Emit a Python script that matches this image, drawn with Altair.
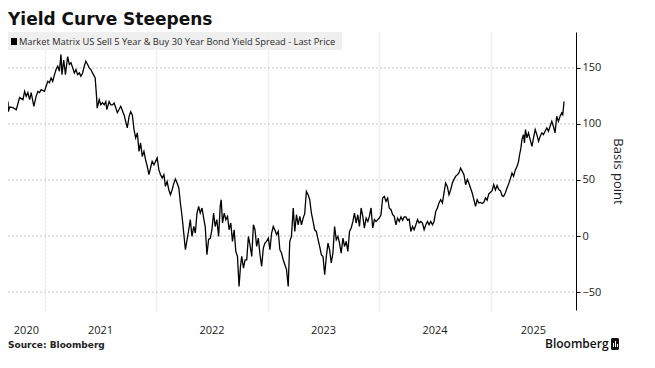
import altair as alt
import pandas as pd

# ---- data (decimal year, spread in basis points) ----
dec_year = [
    2020.670, 2020.673, 2020.685, 2020.715, 2020.744, 2020.774, 2020.804, 2020.819, 2020.833, 2020.848,
    2020.864, 2020.878, 2020.893, 2020.902, 2020.922, 2020.938, 2020.953, 2020.967, 2020.997, 2021.012,
    2021.027, 2021.042, 2021.056, 2021.071, 2021.087, 2021.101, 2021.116, 2021.131, 2021.145, 2021.154,
    2021.170, 2021.185, 2021.205, 2021.220, 2021.235, 2021.250, 2021.265, 2021.279, 2021.294, 2021.310,
    2021.324, 2021.339, 2021.354, 2021.368, 2021.384, 2021.399, 2021.413, 2021.428, 2021.452, 2021.464,
    2021.470, 2021.488, 2021.502, 2021.517, 2021.533, 2021.547, 2021.556, 2021.577, 2021.591, 2021.607,
    2021.622, 2021.651, 2021.681, 2021.711, 2021.740, 2021.756, 2021.770, 2021.785, 2021.800, 2021.815,
    2021.830, 2021.845, 2021.859, 2021.874, 2021.889, 2021.904, 2021.919, 2021.934, 2021.948, 2021.963,
    2021.979, 2021.993, 2022.008, 2022.023, 2022.038, 2022.053, 2022.068, 2022.082, 2022.097, 2022.112,
    2022.127, 2022.142, 2022.157, 2022.171, 2022.187, 2022.202, 2022.216, 2022.231, 2022.246, 2022.261,
    2022.276, 2022.291, 2022.305, 2022.320, 2022.336, 2022.350, 2022.365, 2022.380, 2022.394, 2022.410,
    2022.425, 2022.439, 2022.454, 2022.469, 2022.484, 2022.499, 2022.514, 2022.528, 2022.543, 2022.559,
    2022.573, 2022.582, 2022.594, 2022.609, 2022.624, 2022.639, 2022.653, 2022.668, 2022.683, 2022.698,
    2022.713, 2022.728, 2022.742, 2022.755, 2022.766, 2022.782, 2022.796, 2022.811, 2022.826, 2022.840,
    2022.856, 2022.871, 2022.885, 2022.900, 2022.915, 2022.930, 2022.945, 2022.960, 2022.974, 2022.989,
    2023.005, 2023.019, 2023.034, 2023.049, 2023.063, 2023.079, 2023.094, 2023.108, 2023.123, 2023.138,
    2023.153, 2023.168, 2023.183, 2023.197, 2023.212, 2023.228, 2023.242, 2023.257, 2023.272, 2023.287,
    2023.302, 2023.317, 2023.331, 2023.346, 2023.361, 2023.376, 2023.391, 2023.406, 2023.420, 2023.435,
    2023.451, 2023.465, 2023.480, 2023.495, 2023.510, 2023.525, 2023.540, 2023.554, 2023.569, 2023.584,
    2023.599, 2023.614, 2023.629, 2023.643, 2023.658, 2023.674, 2023.688, 2023.703, 2023.718, 2023.733,
    2023.748, 2023.763, 2023.777, 2023.792, 2023.807, 2023.822, 2023.837, 2023.852, 2023.866, 2023.882,
    2023.897, 2023.911, 2023.926, 2023.941, 2023.956, 2023.971, 2023.986, 2024.000, 2024.015, 2024.030,
    2024.045, 2024.060, 2024.075, 2024.089, 2024.105, 2024.120, 2024.134, 2024.149, 2024.164, 2024.179,
    2024.194, 2024.209, 2024.223, 2024.238, 2024.254, 2024.268, 2024.283, 2024.298, 2024.312, 2024.328,
    2024.343, 2024.357, 2024.372, 2024.387, 2024.402, 2024.417, 2024.432, 2024.446, 2024.461, 2024.477,
    2024.491, 2024.506, 2024.521, 2024.535, 2024.551, 2024.566, 2024.580, 2024.595, 2024.610, 2024.625,
    2024.640, 2024.655, 2024.669, 2024.684, 2024.700, 2024.714, 2024.729, 2024.744, 2024.759, 2024.774,
    2024.789, 2024.803, 2024.818, 2024.833, 2024.848, 2024.863, 2024.878, 2024.892, 2024.908, 2024.923,
    2024.937, 2024.952, 2024.967, 2024.981, 2024.997, 2025.012, 2025.026, 2025.041, 2025.056, 2025.071,
    2025.086, 2025.101, 2025.115, 2025.130, 2025.146, 2025.160, 2025.175, 2025.190, 2025.204, 2025.220,
    2025.235, 2025.249, 2025.258, 2025.270, 2025.279, 2025.293, 2025.302, 2025.311, 2025.324, 2025.338,
    2025.353, 2025.369, 2025.383, 2025.398, 2025.413, 2025.428, 2025.443, 2025.458, 2025.472, 2025.487,
    2025.502, 2025.517, 2025.532, 2025.547, 2025.561, 2025.576, 2025.591, 2025.606, 2025.621, 2025.636,
    2025.645, 2025.657,
]

spread_bp = [
    120, 111, 115, 114.5, 112.6, 123.5, 121.7, 129, 124.6, 128,
    121.7, 128, 120, 115.7, 124.6, 129, 128, 130.6, 129, 133.6,
    138, 136.8, 141, 138, 144, 148.5, 151.5, 147, 162, 144,
    157, 144, 160, 153, 154.5, 150, 145.5, 148.5, 144, 145.5,
    142.5, 145.5, 151.5, 156, 153, 150, 148.5, 145.5, 141, 124.6,
    114, 121.7, 117, 119, 117, 120, 112.7, 120, 117, 117,
    118.6, 110, 115.7, 108, 96.4, 106.8, 111, 108, 95, 87.5,
    92, 75.5, 83, 71, 75.5, 68, 62, 54.7, 60.6, 66.6,
    63.6, 66.6, 69.6, 59, 54.7, 51.7, 54.7, 44.3, 48.7, 41.3,
    36.9, 41.3, 47, 50.8, 47, 42.9, 29.5, 17.5, 2.7, -12.2,
    -3.3, 5.6, 14.6, -0.4, 8.5, 2.7, 20.5, 26.4, 20.5, 25,
    16, 8, -16.7, -3, -2, 5.6, 20.5, 8.5, 14.6, -0.4,
    26.4, 32.4, 11.6, 20.5, 14.6, 17.5, 5.6, 11.6, -4.8, 5.6,
    -13.7, -18.2, -45, -27, -18.2, -28.6, -21.2, -21.2, -0.4, -7.8,
    -18.2, 10, 5.6, -9.3, -1.8, -16.7, -27, -10.7, -6.3, -4.8,
    -1.8, -12.2, 2.7, 8.5, 5.6, 1.2, 4.1, -12.2, -15.2, -21.2,
    -25.6, -30, -45, -4.8, -0.4, 25, 4.1, 19, 10, 17.5,
    10, 16, 20, 39.8, 36.9, 32.4, 20.5, 13, 5.6, 4.1,
    -3.3, -9.3, -16.7, -18.2, -34.6, -18.2, -6.3, -12.2, -24, -15.2,
    8.5, -3.3, -0.4, -6.3, -15.2, -1.8, -9.3, -4.8, -13.7, 4.1,
    7.1, 13, 20.5, 11.6, 19, 8.5, 25, 17.5, 7.1, 16,
    13, 17.5, 25, 7.1, 14.6, 13, 14.6, 16, 19, 33.9,
    35.4, 30.9, 33.9, 25, 23.5, 19, 17.5, 10, 16, 13,
    17, 14, 17, 17, 14, 15, 4, 8.5, 5.6, 10,
    14.6, 11.6, 13, 11.6, 5.6, 10, 13, 10, 13, 10,
    13, 22, 25, 29.5, 32.4, 29.5, 38.4, 47.3, 44.3, 36.9,
    41.3, 47.3, 50.3, 53.2, 54.7, 56.2, 60.6, 57.7, 54.7, 45.8,
    50.3, 47.3, 42.9, 38.4, 32.4, 26.4, 32.4, 29.5, 30, 29,
    30, 34, 32, 37.5, 39, 40.5, 45.8, 41, 45, 41.5,
    40.5, 36, 35.4, 38.4, 43, 46.5, 51, 56.2, 53.2, 59,
    62, 66.6, 72.5, 78.5, 86, 90.4, 83, 95, 87.5, 92,
    86, 80, 87.5, 95, 90.4, 84.5, 89, 92, 90.4, 93.4,
    96.4, 93.4, 97.9, 102.3, 97.9, 92, 106.8, 102.3, 106.8, 109.8,
    108.3, 120,
]

years = [2020, 2021, 2022, 2023, 2024, 2025]
year_bounds = [2021, 2022, 2023, 2024, 2025]
y_ticks = [-50, -25, 0, 25, 50, 75, 100, 125, 150, 175]
y_grid = [-50, 0, 50, 100, 150]
x_domain = [2020.670, 2025.764]
y_domain = [-66, 182]

title_text = "Yield Curve Steepens"
legend_text = "Market Matrix US Sell 5 Year & Buy 30 Year Bond Yield Spread - Last Price"
source_text = "Source: Bloomberg"
axis_title = "Basis point"

W, H = 568, 278

df = pd.DataFrame({"t": dec_year, "v": spread_bp})
lab_df = pd.DataFrame({
    "t": [(max(x_domain[0], y) + min(x_domain[1], y + 1)) / 2 for y in years],
    "lab": [str(y) for y in years],
})
grid_df = pd.DataFrame({"v": y_grid})
one = pd.DataFrame({"a": [0]})

xs = alt.Scale(domain=x_domain, nice=False, zero=False)
ys = alt.Scale(domain=y_domain, nice=False, zero=False)

box = alt.Chart(one).mark_rect(color="#ececec", opacity=0.85).encode(
    x=alt.value(0), x2=alt.value(334), y=alt.value(0), y2=alt.value(18)
)
sq = alt.Chart(one).mark_rect(color="black").encode(
    x=alt.value(3), x2=alt.value(9), y=alt.value(6), y2=alt.value(13)
)
leg = alt.Chart(one).mark_text(
    text=legend_text, align="left", baseline="middle", font="Open Sans",
    fontSize=9.3, color="#2a2a2a"
).encode(x=alt.value(11), y=alt.value(9.5))

hgrid = alt.Chart(grid_df).mark_rule(color="#c4c4c4", strokeDash=[2, 2], strokeWidth=1).encode(
    y=alt.Y("v:Q", scale=ys), x=alt.value(0), x2=alt.value(W)
)

line = alt.Chart(df).mark_line(color="black", strokeWidth=1.3, clip=True).encode(
    x=alt.X("t:Q", scale=xs, axis=alt.Axis(
        values=year_bounds, grid=True, gridColor="#dadada", gridDash=[2, 2],
        labels=False, ticks=False, domain=False, title=None)),
    y=alt.Y("v:Q", scale=ys, axis=alt.Axis(
        orient="right", values=y_ticks, grid=False,
        labelExpr="datum.value % 50 == 0 ? datum.label : ''",
        domainColor="black", domainWidth=1, tickColor="black", tickSize=4,
        labelPadding=2, labelFont="Open Sans", labelFontSize=11, labelColor="#222",
        title=axis_title, titleFont="Open Sans", titleFontSize=13,
        titleFontWeight="normal", titleColor="#222", titlePadding=10)),
)

years_txt = alt.Chart(lab_df).mark_text(
    align="center", baseline="middle", font="Open Sans", fontSize=11, color="#222"
).encode(x=alt.X("t:Q", scale=xs), y=alt.value(299), text="lab:N")

title = alt.Chart(one).mark_text(
    text=title_text, align="left", baseline="alphabetic", font="DejaVu Sans",
    fontSize=17, fontWeight="bold", color="#111"
).encode(x=alt.value(0), y=alt.value(-7))

source = alt.Chart(one).mark_text(
    text=source_text, align="left", baseline="middle", font="DejaVu Sans",
    fontSize=9, fontWeight="bold", color="#222"
).encode(x=alt.value(0), y=alt.value(313))

brand = alt.Chart(one).mark_text(
    text="Bloomberg", align="left", baseline="middle", font="Open Sans",
    fontSize=12, fontWeight=600, color="#111"
).encode(x=alt.value(537), y=alt.value(312))

icon = alt.Chart(one).mark_rect(color="#111", cornerRadius=1.5).encode(
    x=alt.value(603), x2=alt.value(611), y=alt.value(306), y2=alt.value(318)
)
icon_bars = alt.Chart(pd.DataFrame({"bx": [605, 607, 609], "by": [311, 309, 312]})).mark_rect(
    color="white"
).encode(
    x=alt.X("bx:Q", scale=None), x2=alt.X2("bx2:Q"), y=alt.Y("by:Q", scale=None), y2=alt.value(315)
).transform_calculate(bx2="datum.bx + 1")

chart = alt.layer(
    box, hgrid, line, sq, leg, years_txt, title, source, brand, icon, icon_bars
).properties(
    width=W, height=H,
    padding={"left": 0, "top": 24, "right": 71, "bottom": 50},
    autosize=alt.AutoSizeParams(type="none"),
    background="white",
).configure_view(stroke=None)

chart.save("out.html", embed_options={"renderer": "svg", "actions": False})
